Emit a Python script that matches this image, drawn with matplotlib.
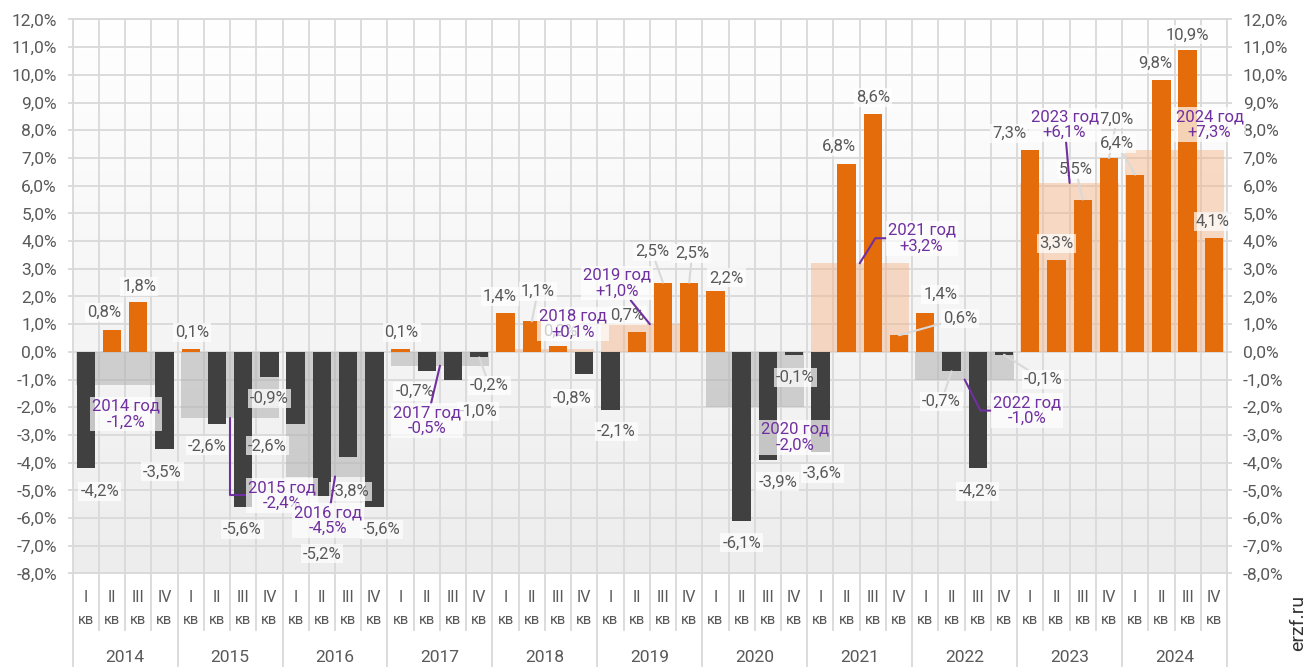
import numpy as np
import matplotlib
matplotlib.use('Agg')
import matplotlib.pyplot as plt
from matplotlib.colors import LinearSegmentedColormap

plt.rcParams['font.family'] = ['Roboto', 'DejaVu Sans']

# ---- data ----
years = ['2014', '2015', '2016', '2017', '2018', '2019', '2020', '2021', '2022', '2023', '2024']
quarters = ['I', 'II', 'III', 'IV']
q_vals = [-4.2, 0.8, 1.8, -3.5,
          0.1, -2.6, -5.6, -0.9,
          -2.6, -5.2, -3.8, -5.6,
          0.1, -0.7, -1.0, -0.2,
          1.4, 1.1, 0.2, -0.8,
          -2.1, 0.7, 2.5, 2.5,
          2.2, -6.1, -3.9, -0.1,
          -3.6, 6.8, 8.6, 0.6,
          1.4, -0.7, -4.2, -0.1,
          7.3, 3.3, 5.5, 7.0,
          6.4, 9.8, 10.9, 4.1]
year_vals = [-1.2, -2.4, -4.5, -0.5, 0.1, 1.0, -2.0, 3.2, -1.0, 6.1, 7.3]

# ---- label placement (pixel offsets from bar end) ----
q_off = [(14, -23), (-8, 17), (1, 16), (-2, -23),
         (1, 17), (-10, -22), (-1, -22), (0, -22),
         (-28, -22), (0, -58), (2, -34), (7, -22),
         (1, 17), (-12, -20), (25, -32), (10, -28),
         (-6, 17), (6, 30), (2, 15), (-12, -24),
         (6, -21), (-9, 17), (-11, 31), (3, 29),
         (11, 13), (0, -22), (10, -22), (1, -23),
         (2, -22), (-8, 17), (0, 16), (61, 17),
         (15, 19), (-10, -30), (0, -23), (39, -25),
         (-21, 16), (0, 17), (-7, 30), (8, 39),
         (-18, 31), (-6, 17), (0, 15), (-1, 17)]
q_lead = [15, 17, 22, 23, 31, 33, 35, 38, 39, 40]
y_off = [(1, -29), (52, -77), (-7, -44), (-13, -55), (28, 25), (-33, 41),
         (40, -30), (62, 25), (62, -31), (-5, 58), (35, 25)]
y_lead = {1: 'angle,angleA=0,angleB=90', 2: 'arc3', 3: 'arc3', 5: 'arc3',
          7: 'angle,angleA=0,angleB=58', 8: 'angle,angleA=0,angleB=117', 9: 'arc3'}

ORANGE = '#e46c0a'
DARK = '#404040'
GRID = '#d9d9d9'
TXT = '#595959'
PURPLE = '#7030a0'


def pct(v, plus=False):
    s = f'{v:+.1f}%' if plus else f'{v:.1f}%'
    return s.replace('.', ',')


fig = plt.figure(figsize=(13.14, 6.67), dpi=100)
ax = fig.add_axes([0.0553, 0.1402, 0.8785, 0.8306])

n = len(q_vals)
x = np.arange(n)
ax.set_xlim(-0.5, n - 0.5)
ax.set_ylim(-8, 12)

# background gradient
cmap = LinearSegmentedColormap.from_list('bg', ['#ffffff', '#ededed'])
ax.imshow(np.linspace(0, 1, 256).reshape(-1, 1), cmap=cmap, aspect='auto',
          extent=(-0.5, n - 0.5, -8, 12), zorder=0)

# annual bars
yc = np.arange(len(years)) * 4 + 1.5
for k, v in enumerate(year_vals):
    if v >= 0:
        ax.bar(yc[k], v, width=3.75, color='#f4b183', alpha=0.45, zorder=2)
    else:
        ax.bar(yc[k], v, width=3.75, color='#b0b0b0', alpha=0.55, zorder=2)

# quarterly bars
cols = [ORANGE if v >= 0 else DARK for v in q_vals]
ax.bar(x, q_vals, width=0.7, color=cols, zorder=3)

# quarter labels
for i, v in enumerate(q_vals):
    ap = None
    if i in q_lead:
        ap = dict(arrowstyle='-', color=GRID, lw=1.5, shrinkA=0, shrinkB=0)
    ax.annotate(pct(v), xy=(i, v), xytext=q_off[i], textcoords='offset pixels',
                ha='center', va='center', fontsize=12, color=TXT, zorder=5,
                bbox=dict(boxstyle='square,pad=0.12', fc='white', ec='none', alpha=0.7),
                arrowprops=ap)

# annual labels
for k, v in enumerate(year_vals):
    ap = None
    if k in y_lead:
        ap = dict(arrowstyle='-', color=PURPLE, lw=1.5, shrinkA=0, shrinkB=0,
                  connectionstyle=y_lead[k])
    ax.annotate(years[k] + ' год\n' + pct(v, plus=True), xy=(yc[k], v),
                xytext=y_off[k], textcoords='offset pixels',
                ha='center', va='center', fontsize=12, color=PURPLE,
                linespacing=1.05, zorder=6,
                bbox=dict(boxstyle='square,pad=0.12', fc='white', ec='none', alpha=0.7),
                arrowprops=ap)

# grid and axes
ax.set_yticks(np.arange(-8, 13, 1))
ax.set_yticklabels([pct(t) for t in np.arange(-8, 13, 1)])
ax.set_xticks([])
ax.set_xticks(np.arange(-0.5, n, 1), minor=True)
ax.grid(axis='y', which='major', color=GRID, lw=1.3)
ax.grid(axis='x', which='minor', color=GRID, lw=1.3)
ax.set_axisbelow(True)
ax.tick_params(axis='y', which='major', length=3.3, width=1.3, color=GRID,
               labelsize=12.5, labelcolor=TXT, pad=8, right=True, labelright=True)
ax.tick_params(axis='x', which='both', length=0)
for sp in ax.spines.values():
    sp.set_color(GRID)
    sp.set_linewidth(1.3)

# category axis below the plot
tr = ax.get_xaxis_transform()
for i in range(n):
    ax.text(i, -0.044, quarters[i % 4], transform=tr, ha='center', va='center',
            fontsize=11.5, color=TXT, clip_on=False)
    ax.text(i, -0.084, 'кв', transform=tr, ha='center', va='center',
            fontsize=10.5, color=TXT, clip_on=False)
for b in range(n + 1):
    bottom = -0.17 if b % 4 == 0 else -0.102
    ax.plot([b - 0.5, b - 0.5], [0, bottom], transform=tr, color=GRID,
            lw=1.3, clip_on=False)
for k, yr in enumerate(years):
    ax.text(yc[k], -0.151, yr, transform=tr, ha='center', va='center',
            fontsize=12.5, color=TXT, clip_on=False)

fig.text(0.988, 0.066, 'erzf.ru', rotation=90, ha='center', va='center',
         fontsize=14, color='#333333')

fig.savefig('out.png', dpi=100)
